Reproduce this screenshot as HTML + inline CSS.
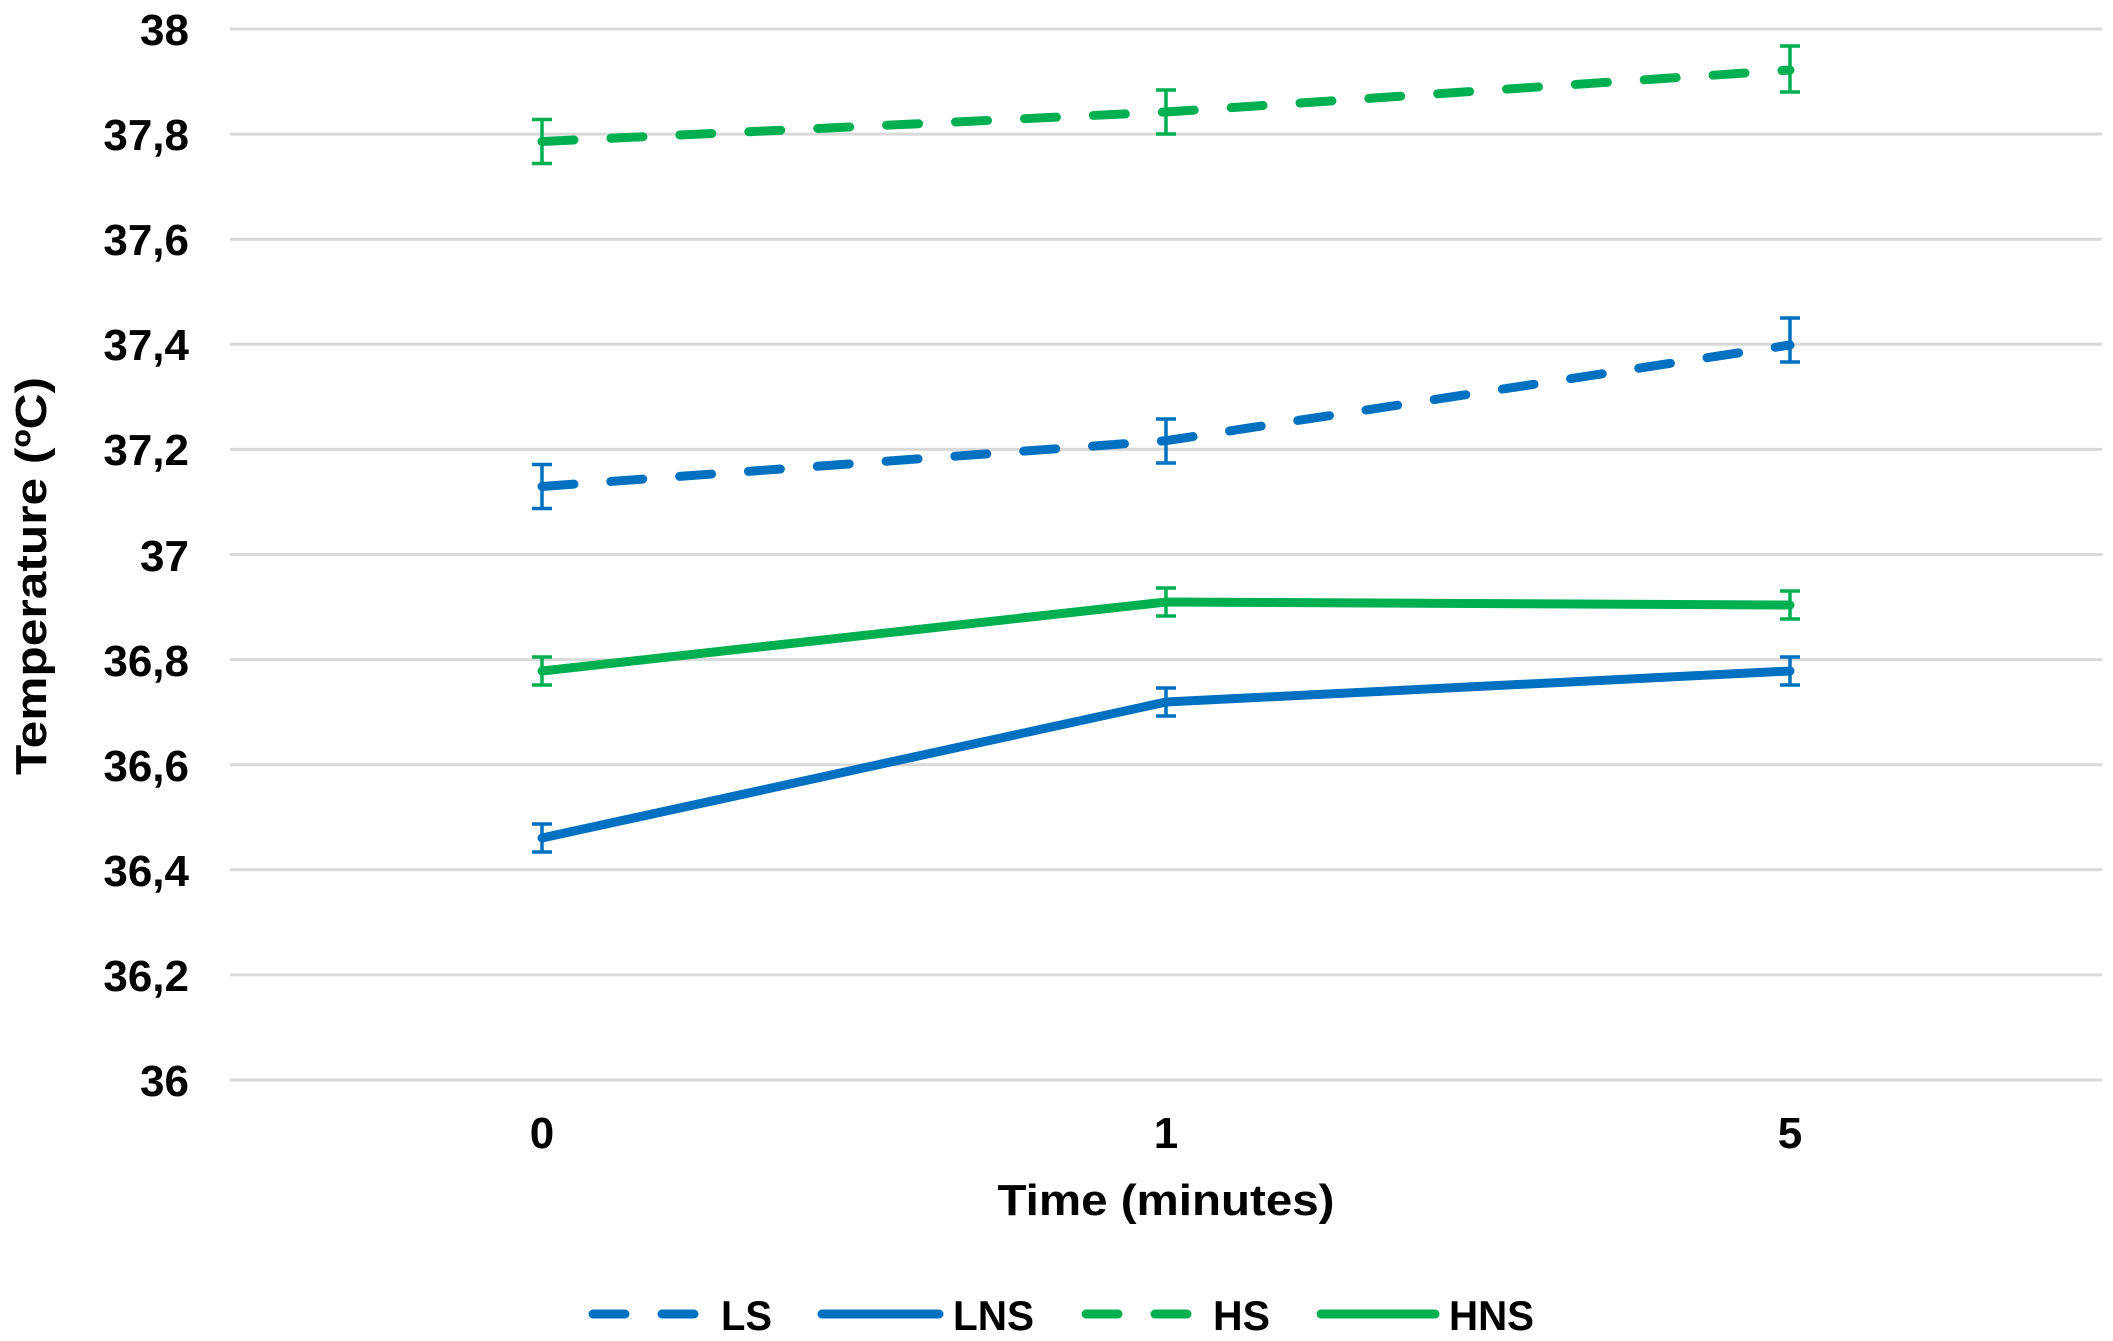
<!DOCTYPE html>
<html><head><meta charset="utf-8"><style>html,body{margin:0;padding:0;background:#fff}svg{display:block}</style></head>
<body>
<svg width="2113" height="1341" viewBox="0 0 2113 1341" xmlns="http://www.w3.org/2000/svg" font-family="'Liberation Sans', Arial, sans-serif" font-weight="bold">
<g stroke="#d9d9d9" stroke-width="3">
<line x1="230" x2="2102" y1="29" y2="29"/>
<line x1="230" x2="2102" y1="134.1" y2="134.1"/>
<line x1="230" x2="2102" y1="239.2" y2="239.2"/>
<line x1="230" x2="2102" y1="344.3" y2="344.3"/>
<line x1="230" x2="2102" y1="449.4" y2="449.4"/>
<line x1="230" x2="2102" y1="554.5" y2="554.5"/>
<line x1="230" x2="2102" y1="659.6" y2="659.6"/>
<line x1="230" x2="2102" y1="764.7" y2="764.7"/>
<line x1="230" x2="2102" y1="869.8" y2="869.8"/>
<line x1="230" x2="2102" y1="974.9" y2="974.9"/>
<line x1="230" x2="2102" y1="1080" y2="1080"/>
</g>
<g font-size="44" text-anchor="end" fill="#000">
<text x="189" y="45">38</text>
<text x="189" y="150">37,8</text>
<text x="189" y="255">37,6</text>
<text x="189" y="360">37,4</text>
<text x="189" y="465">37,2</text>
<text x="189" y="571">37</text>
<text x="189" y="676">36,8</text>
<text x="189" y="781">36,6</text>
<text x="189" y="886">36,4</text>
<text x="189" y="991">36,2</text>
<text x="189" y="1096">36</text>
</g>
<text transform="translate(46,576) rotate(-90)" font-size="44" text-anchor="middle" textLength="398" lengthAdjust="spacingAndGlyphs">Temperature (ºC)</text>
<g font-size="44" text-anchor="middle">
<text x="542" y="1148">0</text>
<text x="1166" y="1148">1</text>
<text x="1790" y="1148">5</text>
<text x="1166" y="1215" textLength="337" lengthAdjust="spacingAndGlyphs">Time (minutes)</text>
</g>
<g fill="none" stroke-width="9" stroke-linecap="round" stroke-linejoin="round">
<polyline points="542,141.5 1166,112 1790,70" stroke="#00b050" stroke-dasharray="32 37"/>
<polyline points="542,486.5 1166,440.7 1790,345" stroke="#0070c0" stroke-dasharray="32 37"/>
<polyline points="542,671 1166,602 1790,605" stroke="#00b050"/>
<polyline points="542,838 1166,702 1790,671" stroke="#0070c0"/>
</g>
<g stroke-width="3.5" fill="none">
<g stroke="#00b050">
<path d="M542,119.5V163.5M532,119.5H552M532,163.5H552"/>
<path d="M1166,90V134M1156,90H1176M1156,134H1176"/>
<path d="M1790,46V92M1780,46H1800M1780,92H1800"/>
<path d="M542,657V685M532,657H552M532,685H552"/>
<path d="M1166,588V616M1156,588H1176M1156,616H1176"/>
<path d="M1790,591V619M1780,591H1800M1780,619H1800"/>
</g>
<g stroke="#0070c0">
<path d="M542,464.5V508.5M532,464.5H552M532,508.5H552"/>
<path d="M1166,419V463M1156,419H1176M1156,463H1176"/>
<path d="M1790,318V362M1780,318H1800M1780,362H1800"/>
<path d="M542,824V852M532,824H552M532,852H552"/>
<path d="M1166,688V716M1156,688H1176M1156,716H1176"/>
<path d="M1790,657V685M1780,657H1800M1780,685H1800"/>
</g>
</g>
<g stroke-width="9" stroke-linecap="round">
<line x1="593" x2="701" y1="1314" y2="1314" stroke="#0070c0" stroke-dasharray="32 37"/>
<line x1="822" x2="939" y1="1314" y2="1314" stroke="#0070c0"/>
<line x1="1086" x2="1193" y1="1314" y2="1314" stroke="#00b050" stroke-dasharray="32 37"/>
<line x1="1321" x2="1435" y1="1314" y2="1314" stroke="#00b050"/>
</g>
<g font-size="42">
<text x="721" y="1330" textLength="51" lengthAdjust="spacingAndGlyphs">LS</text>
<text x="953" y="1330" textLength="81" lengthAdjust="spacingAndGlyphs">LNS</text>
<text x="1213" y="1330" textLength="57" lengthAdjust="spacingAndGlyphs">HS</text>
<text x="1449" y="1330" textLength="85" lengthAdjust="spacingAndGlyphs">HNS</text>
</g>
</svg>
</body></html>
